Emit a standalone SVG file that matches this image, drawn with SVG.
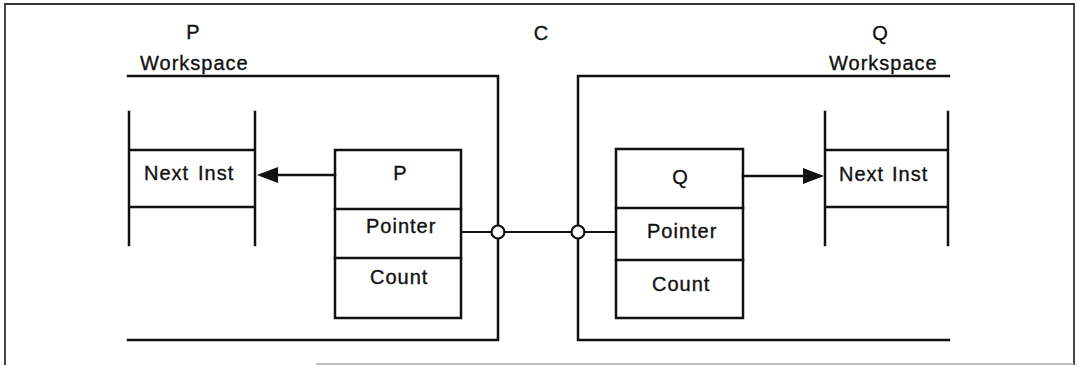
<svg xmlns="http://www.w3.org/2000/svg" width="1077" height="366" viewBox="0 0 1077 366">
<style>
.ln{stroke:#111;stroke-width:2.5;fill:none;stroke-linecap:square}
.bx{stroke:#111;stroke-width:2.5;fill:#fff}
.t{font-family:"Liberation Sans",Arial,sans-serif;font-size:20px;fill:#111;stroke:#111;stroke-width:0.35;letter-spacing:1px}
.h{font-family:"Liberation Sans",Arial,sans-serif;font-size:20px;fill:#111;stroke:#111;stroke-width:0.35;text-anchor:middle}
.jn{stroke:#111;stroke-width:2.2;fill:#fff}
</style>
<defs>
<marker id="arrow" markerUnits="userSpaceOnUse" markerWidth="22" markerHeight="18" refX="16" refY="8" orient="auto">
<path d="M0,0 L21,8 L0,16 Z" fill="#111"/>
</marker>
</defs>
<rect width="1077" height="366" fill="#fff"/>
<g id="frame">
<path d="M5,365 V4 H1074 V365" stroke="#333" stroke-width="1.8" fill="none"/>
<line x1="316" y1="364" x2="1074" y2="364" stroke="#aaa" stroke-width="1.5"/>
</g>
<g id="labels">
<text class="h" x="193" y="39">P</text>
<text class="h" x="541" y="40">C</text>
<text class="h" x="880" y="40">Q</text>
<text class="t" x="140" y="70">Workspace</text>
<text class="t" x="829" y="70">Workspace</text>
</g>
<g id="p-workspace">
<path class="ln" d="M128,76 H498 V340 H128"/>
</g>
<g id="q-workspace">
<path class="ln" d="M949,76 H578 V340 H949"/>
</g>
<g id="p-next-inst">
<path class="ln" d="M129,112 V245 M255,112 V245 M129,150 H255 M129,207 H255"/>
<text class="t" y="180"><tspan x="144">Next</tspan><tspan x="198">Inst</tspan></text>
</g>
<g id="q-next-inst">
<path class="ln" d="M825,112 V245 M948,112 V245 M825,150 H948 M825,207 H948"/>
<text class="t" y="181"><tspan x="839">Next</tspan><tspan x="892">Inst</tspan></text>
</g>
<g id="p-box">
<rect class="bx" x="335" y="150" width="126" height="168"/>
<path class="ln" d="M335,209 H461 M335,258 H461"/>
<text class="h" x="400" y="180">P</text>
<text class="t" x="366" y="233">Pointer</text>
<text class="t" x="370" y="284">Count</text>
</g>
<g id="q-box">
<rect class="bx" x="616" y="149" width="127" height="169"/>
<path class="ln" d="M616,208 H743 M616,260 H743"/>
<text class="h" x="680" y="184">Q</text>
<text class="t" x="647" y="238">Pointer</text>
<text class="t" x="652" y="291">Count</text>
</g>
<g id="connectors">
<line class="ln" x1="335" y1="175" x2="262" y2="175" marker-end="url(#arrow)"/>
<line class="ln" x1="743" y1="176" x2="819" y2="176" marker-end="url(#arrow)"/>
<line x1="461" y1="232" x2="616" y2="232" stroke="#111" stroke-width="2"/>
<circle class="jn" cx="498" cy="232" r="6.5"/>
<circle class="jn" cx="578" cy="232" r="6.5"/>
</g>
</svg>
